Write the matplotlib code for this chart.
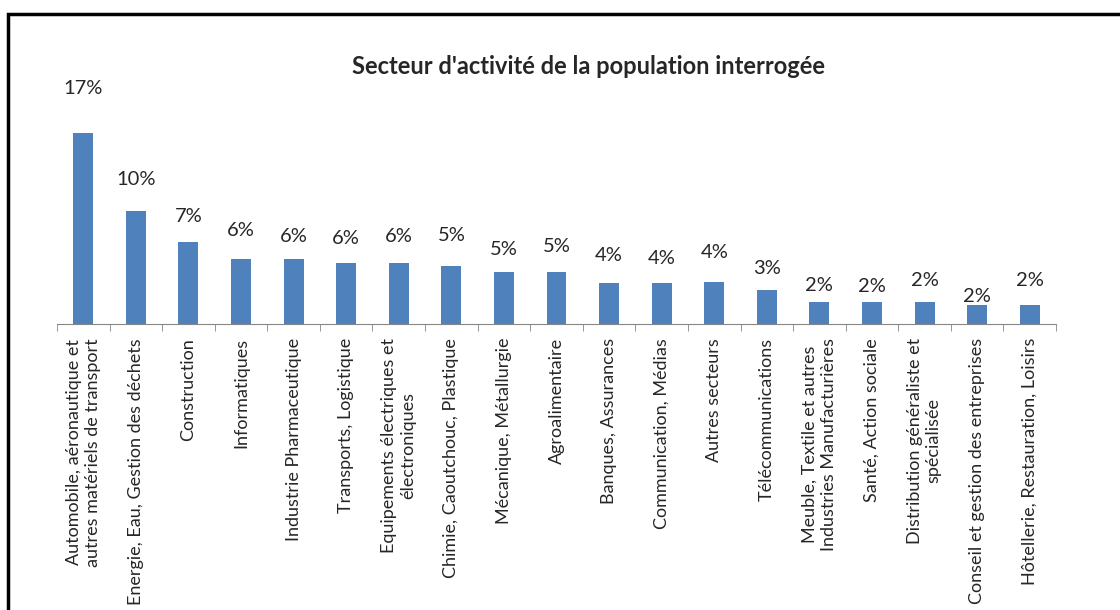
import numpy as np
import matplotlib
matplotlib.use("Agg")
import matplotlib.pyplot as plt
from matplotlib.patches import Rectangle

plt.rcParams['font.family'] = ['Lato', 'DejaVu Sans']

# Data
categories = [
    "Automobile, aéronautique et\nautres matériels de transport",
    "Energie, Eau, Gestion des déchets",
    "Construction",
    "Informatiques",
    "Industrie Pharmaceutique",
    "Transports, Logistique",
    "Equipements électriques et\nélectroniques",
    "Chimie, Caoutchouc, Plastique",
    "Mécanique, Métallurgie",
    "Agroalimentaire",
    "Banques, Assurances",
    "Communication, Médias",
    "Autres secteurs",
    "Télécommunications",
    "Meuble, Textile et autres\nIndustries Manufacturières",
    "Santé, Action sociale",
    "Distribution généraliste et\nspécialisée",
    "Conseil et gestion des entreprises",
    "Hôtellerie, Restauration, Loisirs",
]
values = [17.1, 10.1, 7.3, 5.8, 5.8, 5.5, 5.5, 5.2, 4.7, 4.7,
          3.7, 3.7, 3.8, 3.0, 2.0, 2.0, 2.0, 1.7, 1.7]
pct_labels = ["17%", "10%", "7%", "6%", "6%", "6%", "6%", "5%", "5%", "5%",
              "4%", "4%", "4%", "3%", "2%", "2%", "2%", "2%", "2%"]

# label offsets above bar tops (pixels), as placed in the original
label_offsets = [44, 32, 26, 29, 23, 24, 26, 30, 22, 25,
                 27, 24, 29, 22, 16, 15, 21, 9, 25]

W, H = 1120, 610
fig = plt.figure(figsize=(W / 100, H / 100), dpi=100)
fig.patch.set_facecolor('white')

ymax = 20
ax_h = 191 / 17.1 * ymax
ax = fig.add_axes([57 / W, (H - 324) / H, 999 / W, ax_h / H])

x = np.arange(len(categories))
ax.bar(x, values, width=0.38, color='#4F81BD')

for i, (v, lbl) in enumerate(zip(values, pct_labels)):
    ax.annotate(lbl, (i, v), xytext=(0, label_offsets[i]), textcoords='offset pixels',
                ha='center', va='center', fontsize=14.5, color='#262626')

ax.set_xlim(-0.5, len(categories) - 0.5)
ax.set_ylim(0, ymax)

for s in ['top', 'left', 'right']:
    ax.spines[s].set_visible(False)
ax.spines['bottom'].set_color('#868686')
ax.set_yticks([])

ax.set_xticks(x)
ax.set_xticklabels(categories, rotation=90, ha='center', va='top',
                   multialignment='center', fontsize=13, color='#262626',
                   linespacing=1.2)
ax.tick_params(axis='x', which='major', length=0, pad=10)
ax.set_xticks(np.arange(-0.5, len(categories), 1.0), minor=True)
ax.tick_params(axis='x', which='minor', length=5, color='#868686', direction='out')

fig.text(588 / W, 1 - 67 / H, "Secteur d'activité de la population interrogée",
         ha='center', va='center', fontsize=17, fontweight='bold', color='#262626')

# outer frame
fig.patches.append(Rectangle((8 / W, -0.1), 1.2, (H - 14) / H + 0.1,
                             transform=fig.transFigure, fill=False,
                             lw=2.5, ec='black'))

fig.savefig("out.png", dpi=100)
